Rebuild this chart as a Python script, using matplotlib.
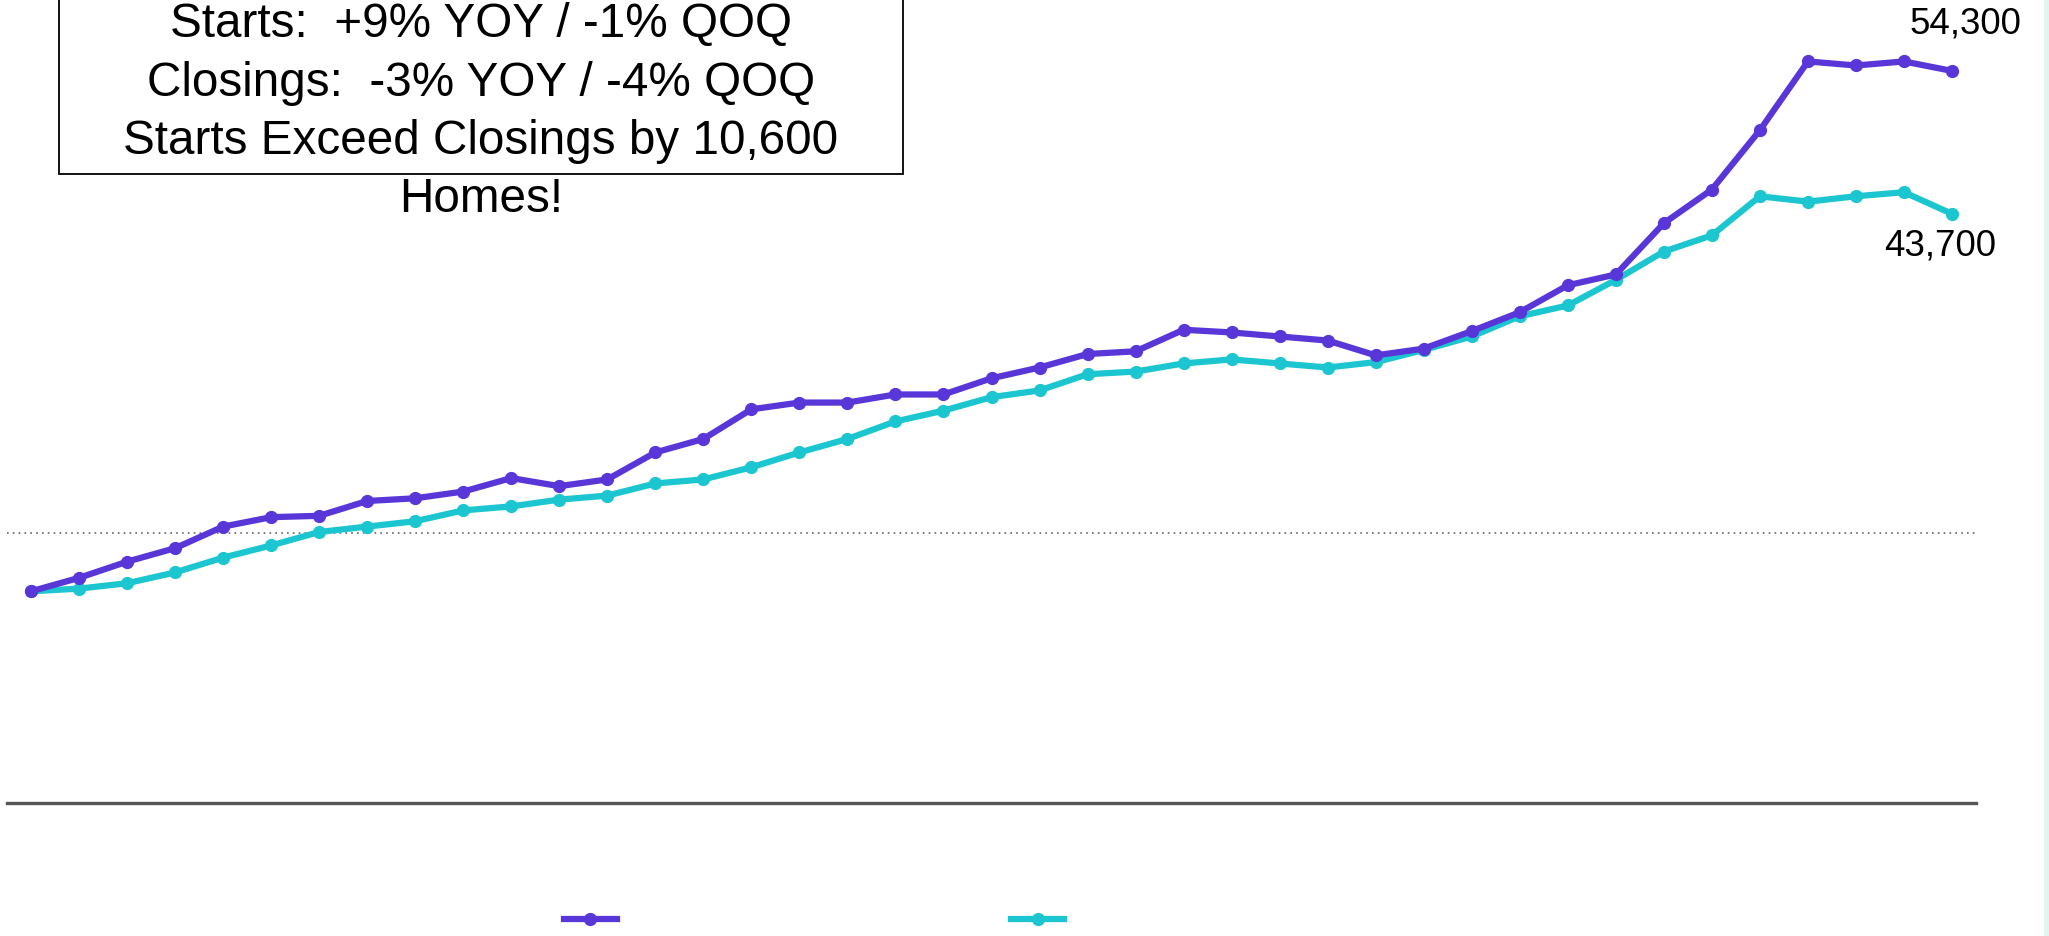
import matplotlib
matplotlib.use('Agg')
from matplotlib import pyplot as plt
from matplotlib.patches import Rectangle

plt.rcParams['font.family'] = ['Liberation Sans', 'DejaVu Sans']

# quarterly starts and closings (homes), oldest first
starts = [15700, 16700, 17900, 18900, 20500, 21200, 21300, 22400, 22600, 23100,
          24100, 23500, 24000, 26000, 27000, 29200, 29700, 29700, 30300, 30300,
          31500, 32300, 33300, 33500, 35100, 34900, 34600, 34300, 33200, 33700,
          35000, 36400, 38400, 39200, 43000, 45500, 49900, 55000, 54700, 55000,
          54300]
closings = [15700, 15900, 16300, 17100, 18200, 19100, 20100, 20500, 20900, 21700,
            22000, 22500, 22800, 23700, 24000, 24900, 26000, 27000, 28300, 29100,
            30100, 30600, 31800, 32000, 32600, 32900, 32600, 32300, 32700, 33600,
            34600, 36100, 36900, 38800, 40900, 42100, 45000, 44600, 45000, 45300,
            43700]
callout = ['Starts:  +9% YOY / -1% QOQ',
           'Closings:  -3% YOY / -4% QOQ',
           'Starts Exceed Closings by 10,600',
           'Homes!']

purple = '#5836d8'
cyan = '#1cc6d0'

W, H = 2049, 937
fig = plt.figure(figsize=(W / 100, H / 100), dpi=100)
fig.patch.set_facecolor('white')
# thin mint strip on the right edge
fig.patches.append(Rectangle((2044 / W, 0), 5 / W, 1, transform=fig.transFigure,
                             facecolor='#e4f4f0', edgecolor='none', zorder=0))

ax = fig.add_axes([7 / W, 133 / H, 1969 / W, 782 / H])
ax.set_facecolor('none')
x = list(range(len(starts)))
l1, = ax.plot(x, starts, color=purple, lw=4.5, marker='o', ms=8.5, clip_on=False, zorder=3)
l2, = ax.plot(x, closings, color=cyan, lw=4.5, marker='o', ms=8.5, clip_on=False, zorder=2)

ax.set_xlim(-0.5, len(starts) - 0.5)
ax.set_ylim(0, 58000)
ax.axhline(20000, color='#666666', lw=1.2, ls=(0, (1, 2.5)), zorder=1)
for s in ['top', 'right', 'left']:
    ax.spines[s].set_visible(False)
ax.spines['bottom'].set_color('#555555')
ax.spines['bottom'].set_linewidth(2.4)
ax.set_xticks([])
ax.set_yticks([])

ax.annotate(f'{starts[-1]:,}', (x[-1], starts[-1]), xytext=(10, 34.5),
            textcoords='offset points', ha='center', va='center', fontsize=26.5)
ax.annotate(f'{closings[-1]:,}', (x[-1], closings[-1]), xytext=(-8.5, -22.5),
            textcoords='offset points', ha='center', va='center', fontsize=26.5)

# callout box at the top left, text runs past its bottom edge
fig.patches.append(Rectangle((59 / W, 1 - 175 / H), 844 / W, 200 / H,
                             transform=fig.transFigure, facecolor='white',
                             edgecolor='black', lw=1.3, zorder=5))
for i, line in enumerate(callout):
    fig.text(481 / W, 1 - (37 + 58.5 * i) / H, line, ha='center', va='baseline',
             fontsize=34.3, zorder=6)

fig.legend([l1, l2], ['', ''], loc='center', bbox_to_anchor=(814 / W, 1 - 923 / H),
           ncol=2, frameon=False, fontsize=20, handlelength=1.9,
           handletextpad=0.0, columnspacing=14.2)

fig.savefig('out.png', dpi=100)
